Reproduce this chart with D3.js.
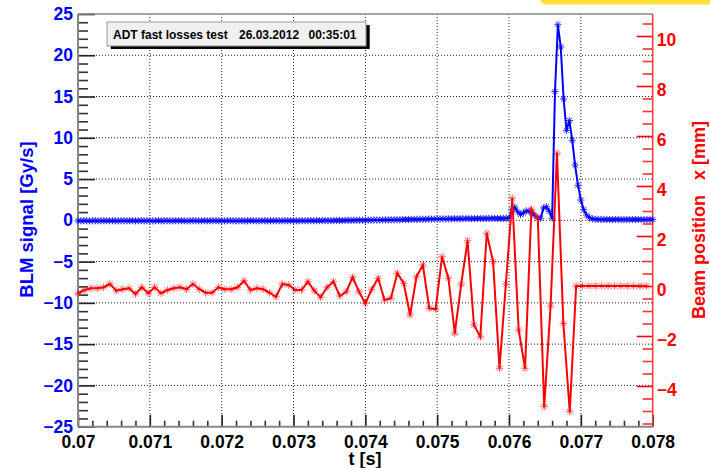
<!DOCTYPE html>
<html>
<head>
<meta charset="utf-8">
<title>ADT fast losses test</title>
<script src="https://cdn.jsdelivr.net/npm/d3@7"></script>
<style>
body{margin:0;background:#fff;}
text{font-family:"Liberation Sans",Arial,Helvetica,sans-serif;font-weight:bold;}
</style>
</head>
<body>
<svg width="710" height="468" id="mainsvg"></svg>
<script>
    // BLM signal [Gy/s], one sample every 40 us from t = 0.07 s
    const blmStart = 0.07, blmStep = 0.00004;
    const blmSignal = [
        -0.05,-0.06,-0.04,-0.05,-0.07,-0.05,-0.04,-0.06,-0.05,-0.05,
        -0.04,-0.06,-0.05,-0.05,-0.07,-0.04,-0.05,-0.06,-0.05,-0.04,
        -0.06,-0.05,-0.04,-0.06,-0.05,-0.05,-0.07,-0.05,-0.04,-0.06,
        -0.05,-0.04,-0.06,-0.05,-0.05,-0.04,-0.06,-0.05,-0.07,-0.05,
        -0.04,-0.05,-0.06,-0.05,-0.04,-0.06,-0.05,-0.05,-0.04,-0.06,
        -0.05,-0.07,-0.05,-0.04,-0.06,-0.05,-0.05,-0.04,-0.06,-0.05,
        -0.04,-0.05,-0.06,-0.05,-0.05,-0.04,-0.06,-0.05,-0.04,-0.05,
        -0.05,-0.06,-0.04,-0.05,-0.05,-0.04,-0.06,-0.05,-0.04,-0.05,
        -0.04,-0.03,-0.05,-0.04,-0.03,-0.04,-0.02,-0.03,-0.04,-0.02,
        -0.02,-0.01,-0.03,-0.01,0.00,-0.01,0.01,0.00,0.02,0.01,
        0.02,0.03,0.02,0.04,0.03,0.05,0.04,0.06,0.05,0.07,
        0.06,0.08,0.07,0.09,0.10,0.09,0.11,0.12,0.11,0.13,
        0.14,0.13,0.15,0.16,0.15,0.17,0.16,0.18,0.17,0.19,
        0.18,0.20,0.19,0.21,0.20,0.22,0.21,0.20,0.22,0.21,
        0.22,0.21,0.23,0.22,0.24,0.23,0.22,0.24,0.23,0.25,
        0.28,1.25,1.60,1.05,0.70,0.90,1.15,1.10,0.90,0.60,
        0.30,0.25,1.50,1.65,1.10,0.25,15.6,23.7,21.0,14.7,
        10.9,12.1,9.7,6.7,4.25,2.46,1.30,0.64,0.32,0.18,
        0.14,0.12,0.11,0.10,0.11,0.10,0.09,0.10,0.11,0.10,
        0.09,0.10,0.10,0.11,0.09,0.10,0.10,0.09,0.10,0.11,0.10
    ];

    // beam position x [mm], one sample per turn (88.9 us) from t = 0.07 s
    const posStart = 0.07, posStep = 0.0000889;
    const beamPos = [
        -0.29,-0.16,-0.09,-0.09,-0.05,0.08,-0.19,-0.13,-0.09,-0.32,
        -0.05,-0.29,-0.05,-0.29,-0.16,-0.09,-0.05,-0.13,0.08,-0.13,
        -0.27,-0.27,-0.05,-0.13,-0.13,-0.05,0.21,-0.16,-0.09,-0.13,
        -0.27,-0.43,0.08,0.04,-0.16,-0.16,0.17,-0.19,-0.45,-0.05,
        0.17,-0.40,-0.23,0.35,-0.23,-0.69,-0.13,0.31,-0.56,-0.49,
        0.51,0.11,-1.16,0.37,0.84,-0.89,-0.93,1.17,0.31,-1.89,
        0.07,1.81,-1.56,-2.03,2.11,0.97,-3.29,0.08,3.51,-1.76,
        -3.29,3.07,2.70,-4.83,-0.80,5.31,-1.50,-5.03,0,0,
        0,0,0,0,0,0,0,0,0,0
    ];

    const timeTicks = [0.07,0.071,0.072,0.073,0.074,0.075,0.076,0.077,0.078];
    const timeLabels = ["0.07","0.071","0.072","0.073","0.074","0.075","0.076","0.077","0.078"];
    const blmTicks = [-25,-20,-15,-10,-5,0,5,10,15,20,25];
    const posTicks = [-4,-2,0,2,4,6,8,10];

    const plotL = 78, plotR = 652.7, plotT = 14, plotB = 426.7;
    const blue = "#0000ff", red = "#ff0000";

    let mainsvg = d3.select('#mainsvg');

    let x = d3.scaleLinear().domain([0.07, 0.078]).range([plotL, plotR]);
    let yL = d3.scaleLinear().domain([-25, 25]).range([plotB, plotT]);
    let yR = d3.scaleLinear().domain([-5.628, 10.88]).range([plotB, plotT]);

    // yellow tab in the corner
    mainsvg.append('rect')
        .attr('x', 540).attr('y', -12).attr('width', 190).attr('height', 16.5)
        .attr('rx', 6).attr('fill', '#ffe135');

    // grid
    let grid = mainsvg.append('g');
    grid.append('g').selectAll('line').data(timeTicks.slice(1, -1)).join('line')
        .attr('x1', d => x(d)).attr('x2', d => x(d))
        .attr('y1', plotT).attr('y2', plotB)
        .attr('stroke', '#222').attr('stroke-width', 1).attr('stroke-dasharray', '1,2');
    grid.append('g').selectAll('line').data(blmTicks.slice(1, -1)).join('line')
        .attr('x1', plotL).attr('x2', plotR)
        .attr('y1', d => yL(d)).attr('y2', d => yL(d))
        .attr('stroke', '#222').attr('stroke-width', 1).attr('stroke-dasharray', '1,2');

    function styleTicks(g, color){
        g.select('.domain').remove();
        g.selectAll('line').attr('stroke', color).attr('stroke-width', 1.6);
    }
    function styleLabels(g, color){
        g.select('.domain').remove();
        g.selectAll('line').remove();
        g.selectAll('text').attr('fill', color).style('font-size', '17.5px');
    }

    // left axis (BLM)
    let leftMinor = d3.range(-25, 26, 1).filter(d => d % 5 !== 0);
    mainsvg.append('g').attr('transform', `translate(${plotL},0)`)
        .call(d3.axisRight(yL).tickValues(leftMinor).tickSize(10).tickFormat(''))
        .call(g => styleTicks(g, '#333'));
    mainsvg.append('g').attr('transform', `translate(${plotL},0)`)
        .call(d3.axisRight(yL).tickValues(blmTicks).tickSize(17).tickFormat(''))
        .call(g => styleTicks(g, '#222'));
    mainsvg.append('g').attr('transform', `translate(${plotL},0)`)
        .call(d3.axisLeft(yL).tickValues(blmTicks).tickSize(0).tickPadding(5).tickFormat(d3.format('d')))
        .call(g => styleLabels(g, blue));

    // bottom axis (time)
    let timeMinor = d3.range(0, 41).map(i => 0.07 + i * 0.0002).filter((d, i) => i % 5 !== 0);
    mainsvg.append('g').attr('transform', `translate(0,${plotB})`)
        .call(d3.axisTop(x).tickValues(timeMinor).tickSize(6).tickFormat(''))
        .call(g => styleTicks(g, '#333'));
    mainsvg.append('g').attr('transform', `translate(0,${plotB})`)
        .call(d3.axisTop(x).tickValues(timeTicks).tickSize(12).tickFormat(''))
        .call(g => styleTicks(g, '#222'));
    mainsvg.append('g').attr('transform', `translate(0,${plotB})`)
        .call(d3.axisBottom(x).tickValues(timeTicks).tickSize(0).tickPadding(9)
            .tickFormat((d, i) => timeLabels[i]))
        .call(g => styleLabels(g, '#000'));

    // right axis (beam position)
    let posMinor = d3.range(-11, 22).map(i => i * 0.5).filter(d => d % 2 !== 0);
    mainsvg.append('g').attr('transform', `translate(${plotR},0)`)
        .call(d3.axisLeft(yR).tickValues(posMinor).tickSize(10).tickFormat(''))
        .call(g => styleTicks(g, '#ff3030'));
    mainsvg.append('g').attr('transform', `translate(${plotR},0)`)
        .call(d3.axisLeft(yR).tickValues(posTicks).tickSize(16).tickFormat(''))
        .call(g => styleTicks(g, red));
    mainsvg.append('g').attr('transform', `translate(${plotR},0)`)
        .call(d3.axisRight(yR).tickValues(posTicks).tickSize(0).tickPadding(4).tickFormat(d3.format('d')))
        .call(g => styleLabels(g, red))
        .selectAll('text').attr('dy', '0.55em');

    // frame
    mainsvg.append('line').attr('x1', plotL).attr('x2', plotR).attr('y1', plotT).attr('y2', plotT)
        .attr('stroke', '#888').attr('stroke-width', 1.5);
    mainsvg.append('line').attr('x1', plotL).attr('x2', plotL).attr('y1', plotT).attr('y2', plotB)
        .attr('stroke', '#888').attr('stroke-width', 2);
    mainsvg.append('line').attr('x1', plotL).attr('x2', plotR).attr('y1', plotB).attr('y2', plotB)
        .attr('stroke', '#888').attr('stroke-width', 2);
    mainsvg.append('line').attr('x1', plotR).attr('x2', plotR).attr('y1', plotT).attr('y2', plotB)
        .attr('stroke', '#ff4040').attr('stroke-width', 1.6);

    // asterisk marker
    function star(r){
        let d = r * 0.72;
        return `M${-r},0L${r},0M0,${-r}L0,${r}M${-d},${-d}L${d},${d}M${-d},${d}L${d},${-d}`;
    }

    // BLM series
    let blmLine = d3.line()
        .x((d, i) => x(blmStart + i * blmStep))
        .y(d => yL(d));
    mainsvg.append('path').datum(blmSignal)
        .attr('d', blmLine).attr('fill', 'none')
        .attr('stroke', blue).attr('stroke-width', 2);
    mainsvg.append('g').selectAll('path').data(blmSignal).join('path')
        .attr('transform', (d, i) => `translate(${x(blmStart + i * blmStep)},${yL(d)})`)
        .attr('d', star(3.6)).attr('fill', 'none')
        .attr('stroke', blue).attr('stroke-width', 1).attr('stroke-opacity', 0.8);

    // beam position series
    let posLine = d3.line()
        .x((d, i) => x(posStart + i * posStep))
        .y(d => yR(d));
    mainsvg.append('path').datum(beamPos)
        .attr('d', posLine).attr('fill', 'none')
        .attr('stroke', red).attr('stroke-width', 2);
    mainsvg.append('g').selectAll('path').data(beamPos).join('path')
        .attr('transform', (d, i) => `translate(${x(posStart + i * posStep)},${yR(d)})`)
        .attr('d', star(3.8)).attr('fill', 'none')
        .attr('stroke', red).attr('stroke-width', 1).attr('stroke-opacity', 0.6);

    // title box
    mainsvg.append('rect').attr('x', 110.7).attr('y', 25).attr('width', 259).attr('height', 24)
        .attr('fill', '#000');
    mainsvg.append('rect').attr('x', 107).attr('y', 22).attr('width', 259).attr('height', 24)
        .attr('fill', '#f0f0f0').attr('stroke', '#999').attr('stroke-width', 1);
    let titleParts = [["ADT fast losses test", 113], ["26.03.2012", 239], ["00:35:01", 308.5]];
    mainsvg.append('g').selectAll('text').data(titleParts).join('text')
        .attr('x', d => d[1]).attr('y', 38.5)
        .style('font-size', '12px').attr('fill', '#000')
        .text(d => d[0]);

    // axis titles
    mainsvg.append('text')
        .attr('transform', 'translate(32.5,219.5) rotate(-90)')
        .attr('text-anchor', 'middle').attr('fill', blue)
        .style('font-size', '18.5px')
        .text('BLM signal [Gy/s]');
    mainsvg.append('text')
        .attr('transform', 'translate(705,220) rotate(-90)')
        .attr('text-anchor', 'middle').attr('fill', red)
        .attr('xml:space', 'preserve').style('white-space', 'pre')
        .style('font-size', '18px')
        .text('Beam position   x [mm]');
    mainsvg.append('text')
        .attr('x', 365).attr('y', 464.5)
        .attr('text-anchor', 'middle').attr('fill', '#000')
        .style('font-size', '18px')
        .text('t [s]');
</script>
</body>
</html>
